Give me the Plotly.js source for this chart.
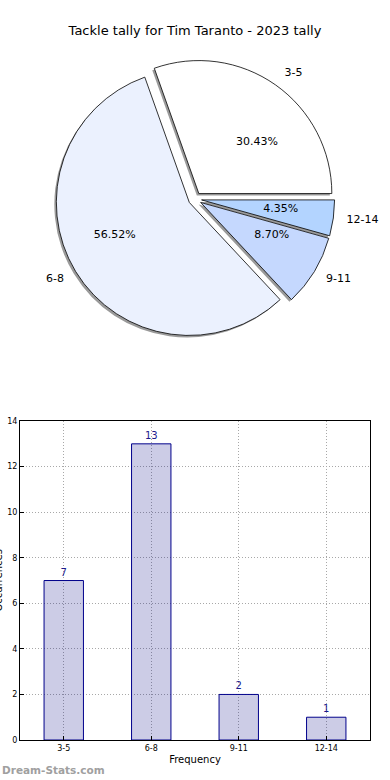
<!DOCTYPE html>
<html>
<head>
<meta charset="utf-8">
<script src="https://cdn.plot.ly/plotly-3.0.1.min.js"></script>
<style>html,body{margin:0;padding:0;background:#fff;}#chart{width:390px;height:780px;}</style>
</head>
<body>
<div id="chart"></div>
<script>
const categories = ["3-5", "6-8", "9-11", "12-14"];
const counts = [7, 13, 2, 1];
const pieColors = ["#ffffff", "#ebf1fe", "#c5d8fe", "#b3d4ff"];
const shadowColor = "#9a9a9a";
const titleText = "Tackle tally for Tim Taranto - 2023 tally";

// pixel geometry helpers (plot area: l=20, t=0, w=350, h=740)
const PW = 350, PH = 740, CX = 195 - 20, CY = 199;
function dom(radius, pull, dx, dy) {
  const half = radius * (1 + pull);
  return {
    x: [(CX + dx - half) / PW, (CX + dx + half) / PW],
    y: [1 - (CY + dy + half) / PH, 1 - (CY + dy - half) / PH]
  };
}
const R = 133, PULL = 0.05, SHIFT = R * PULL;
const common = {
  type: "pie", labels: categories, values: counts, sort: false,
  direction: "counterclockwise", rotation: -19.57,
  showlegend: false, hoverinfo: "skip"
};

const shadow = Object.assign({}, common, {
  pull: counts.map(() => PULL),
  marker: { colors: counts.map(() => shadowColor), line: { width: 0 } },
  textinfo: "none",
  domain: dom(R, PULL, -2, 2)
});

const pie = Object.assign({}, common, {
  pull: counts.map(() => PULL),
  marker: { colors: pieColors, line: { color: "#000", width: 0.8 } },
  textinfo: "none",
  domain: dom(R, PULL, 0, 0)
});

const RL = 143, PL = SHIFT / RL;
const labelPie = Object.assign({}, common, {
  pull: counts.map(() => PL),
  marker: { colors: counts.map(() => "rgba(0,0,0,0)"), line: { width: 0 } },
  textinfo: "label",
  textposition: "outside",
  outsidetextfont: { family: "DejaVu Sans", size: 11, color: "#000" },
  domain: dom(RL, PL, 0, 0)
});

const RP = 59, PP = SHIFT / RP;
const pctPie = Object.assign({}, common, {
  pull: counts.map(() => PP),
  marker: { colors: counts.map(() => "rgba(0,0,0,0)"), line: { width: 0 } },
  texttemplate: "%{percent:.2%}",
  textposition: "outside",
  outsidetextfont: { family: "DejaVu Sans", size: 11, color: "#000" },
  domain: dom(RP, PP, 0, 0)
});

const bar = {
  type: "bar",
  x: categories,
  y: counts,
  width: 0.45,
  marker: { color: "rgba(0,0,128,0.2)", line: { color: "#00008b", width: 1 } },
  text: counts.map(String),
  textposition: "outside",
  textfont: { family: "DejaVu Sans", size: 10, color: "#1a1a8c" },
  cliponaxis: false,
  xaxis: "x",
  yaxis: "y",
  showlegend: false
};

const axisCommon = {
  showline: true,
  mirror: true,
  linecolor: "#000",
  linewidth: 1,
  showgrid: true,
  gridcolor: "#a8a8a8",
  griddash: "1px,2px",
  gridwidth: 1,
  ticks: "inside",
  ticklen: 4,
  tickcolor: "#000",
  zeroline: false,
  tickfont: { family: "DejaVu Sans", size: 8, color: "#000" }
};

const layout = {
  width: 390,
  height: 780,
  margin: { l: 20, r: 20, t: 0, b: 40 },
  paper_bgcolor: "#fff",
  plot_bgcolor: "#fff",
  title: {
    text: titleText,
    font: { family: "DejaVu Sans", size: 13, color: "#000" },
    x: 0.5, xref: "container", xanchor: "center",
    y: 1 - 30 / 780, yref: "container", yanchor: "middle"
  },
  xaxis: Object.assign({}, axisCommon, {
    type: "category",
    range: [-0.5, 3.5],
    domain: [0, 1],
    anchor: "y",
    title: { text: "Frequency", font: { family: "DejaVu Sans", size: 10, color: "#000" }, standoff: 4 }
  }),
  yaxis: Object.assign({}, axisCommon, {
    range: [0, 14],
    dtick: 2,
    domain: [0, 0.431],
    anchor: "x",
    automargin: false
  }),
  annotations: [
    {
      text: "Occurrences", textangle: -90,
      xref: "paper", yref: "paper", x: 0, y: 0.2155,
      xanchor: "center", yanchor: "middle", xshift: -21,
      showarrow: false,
      font: { family: "DejaVu Sans", size: 10, color: "#000" }
    },
    {
      text: "<b>Dream-Stats.com</b>",
      xref: "paper", yref: "paper", x: 0, y: 0,
      xanchor: "left", yanchor: "middle", xshift: -20, yshift: -30,
      showarrow: false,
      font: { family: "DejaVu Sans", size: 10.5, color: "#a0a0a0" }
    }
  ]
};

Plotly.newPlot("chart", [shadow, pie, labelPie, pctPie, bar], layout, { staticPlot: true, displayModeBar: false });
</script>
</body>
</html>
